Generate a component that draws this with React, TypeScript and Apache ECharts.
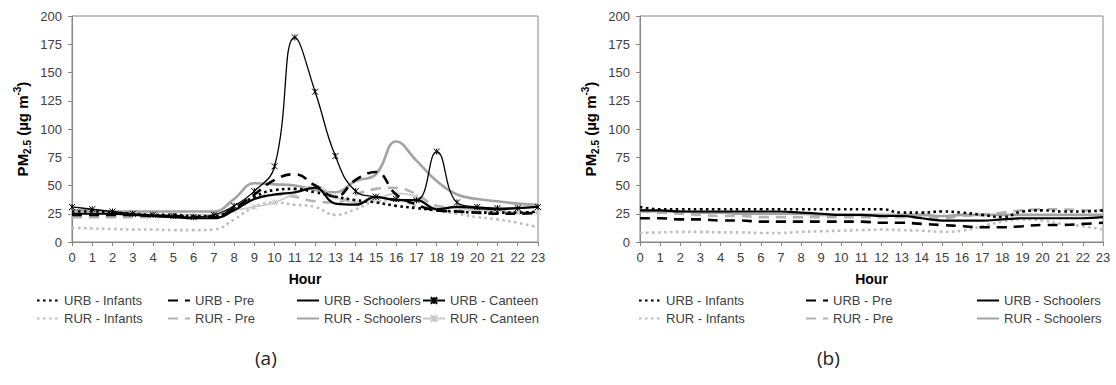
import React, { useEffect, useRef } from "react";
import * as echarts from "echarts";

// Hour of day (x categories) and the PM2.5 tick labels
const hours = ["0","1","2","3","4","5","6","7","8","9","10","11","12","13","14","15","16","17","18","19","20","21","22","23"];
const yTicks = [0, 25, 50, 75, 100, 125, 150, 175, 200];

// (a) hourly mean PM2.5, µg m-3
const aUrbInfants = [27, 27, 26, 25, 24, 24, 23, 23, 30, 40, 46, 47, 44, 40, 37, 35, 32, 30, 28, 27, 26, 26, 26, 27];
const aUrbPre = [24, 24, 24, 24, 23, 23, 22, 22, 30, 42, 55, 60, 50, 40, 55, 62, 42, 33, 28, 27, 26, 25, 25, 26];
const aUrbSchoolers = [25, 25, 25, 24, 23, 22, 21, 21, 28, 38, 42, 44, 48, 34, 33, 40, 37, 37, 29, 31, 30, 29, 30, 31];
const aUrbCanteen = [31, 29, 27, 25, 24, 23, 22, 24, 32, 45, 67, 181, 133, 76, 45, 40, 38, 37, 80, 35, 31, 30, 30, 31];
const aRurInfants = [12.5, 12, 11.5, 11, 11, 10.5, 10.5, 11, 20, 31, 35, 33, 31, 24, 29, 36, 37, 32, 28, 25, 22, 20, 17, 13];
const aRurPre = [22, 22, 22, 22, 22, 23, 23, 24, 30, 38, 42, 40, 36, 35, 42, 47, 48, 42, 32, 30, 28, 27, 26, 26];
const aRurSchoolers = [28, 28, 27, 27, 27, 27, 27, 27, 38, 52, 51, 50, 46, 44, 54, 60, 89, 72, 54, 42, 38, 36, 34, 33];
const aRurCanteen = [26, 25, 25, 24, 24, 24, 24, 24, 28, 31, 35, 43, 50, 40, 35, 38, 43, 40, 30, 30, 28, 28, 26, 26];

// (b) hourly mean PM2.5, µg m-3
const bUrbInfants = [31, 29, 29, 29, 29, 29, 29, 29, 29, 29, 29, 29, 29, 26, 26, 27, 26, 24, 22, 27, 28, 27, 27, 28];
const bUrbPre = [21, 21, 20, 20, 19, 19, 18, 18, 18, 18, 18, 18, 17, 17, 16, 15, 14, 13, 13, 14, 15, 15, 16, 17];
const bUrbSchoolers = [28, 28, 27, 27, 27, 27, 27, 27, 26, 25, 24, 24, 23, 23, 21, 19, 19, 19, 20, 21, 21, 21, 21, 22];
const bRurInfants = [8, 8.5, 9, 9, 8.5, 8.5, 8, 8, 9, 9.5, 10, 10.5, 11, 10.5, 10, 9, 10, 14, 18, 20, 19, 16, 14, 11];
const bRurPre = [27, 26, 25, 24, 23, 23, 22, 22, 22, 22, 22, 22, 22, 22, 22, 21, 23, 24, 26, 28, 29, 29, 28, 28];
const bRurSchoolers = [28, 27, 27, 26, 26, 25, 25, 25, 25, 24, 24, 24, 24, 24, 24, 23, 24, 24, 24, 24, 24, 24, 24, 24];

const FONT = "'Liberation Sans', Arial, sans-serif";
const AXIS_GREY = "#868686";
const LABEL_GREY = "#404040";

// asterisk-style marker used for the canteen series
const STAR = "path://M0,0L10,10M10,0L0,10M5,0L5,10";

type LineSpec = { color: string; width: number; type: any; marker?: boolean };

const styleOf: Record<string, LineSpec> = {
  "URB - Infants": { color: "#000000", width: 2.6, type: [2.6, 3.4] },
  "URB - Pre": { color: "#000000", width: 2.6, type: [10, 7] },
  "URB - Schoolers": { color: "#000000", width: 2.2, type: "solid" },
  "URB - Canteen": { color: "#000000", width: 1.3, type: "solid", marker: true },
  "RUR - Infants": { color: "#bdbdbd", width: 2.6, type: [2.6, 3.4] },
  "RUR - Pre": { color: "#b3b3b3", width: 2.6, type: [10, 7] },
  "RUR - Schoolers": { color: "#a3a3a3", width: 2.6, type: "solid" },
  "RUR - Canteen": { color: "#c9c9c9", width: 1.6, type: "solid", marker: true },
};

function lineSeries(name: string, data: number[], idx: number, z: number) {
  const s = styleOf[name];
  return {
    type: "line",
    name,
    data,
    xAxisIndex: idx,
    yAxisIndex: idx,
    smooth: 0.45,
    z,
    symbol: s.marker ? STAR : "circle",
    symbolSize: 6,
    showSymbol: !!s.marker,
    lineStyle: { color: s.color, width: s.width, type: s.type },
    // series without markers keep their (hidden) symbol transparent so the legend shows only the line
    itemStyle: s.marker
      ? { color: s.color, borderColor: s.color, borderWidth: 1 }
      : { color: s.color, opacity: 0 },
  };
}

function axisPair(idx: number) {
  return {
    x: {
      type: "category",
      gridIndex: idx,
      data: hours,
      boundaryGap: false,
      name: "Hour",
      nameLocation: "middle",
      nameGap: 30,
      nameTextStyle: { fontFamily: FONT, fontSize: 14, fontWeight: "bold", color: "#000" },
      axisLine: { lineStyle: { color: AXIS_GREY, width: 1 } },
      axisTick: { show: true, length: 4, lineStyle: { color: AXIS_GREY } },
      axisLabel: { interval: 0, fontFamily: FONT, fontSize: 13, color: LABEL_GREY, margin: 9 },
      splitLine: { show: false },
    },
    y: {
      type: "value",
      gridIndex: idx,
      min: yTicks[0],
      max: yTicks[yTicks.length - 1],
      interval: 25,
      name: "{b|PM}{s|2.5}{b| (µg m}{p|-3}{b|)}",
      nameLocation: "middle",
      nameRotate: 90,
      nameGap: 40,
      nameTextStyle: {
        rich: {
          b: { fontFamily: FONT, fontSize: 15, fontWeight: "bold", color: "#000", lineHeight: 20, verticalAlign: "middle" },
          s: { fontFamily: FONT, fontSize: 10, fontWeight: "bold", color: "#000", lineHeight: 20, verticalAlign: "bottom" },
          p: { fontFamily: FONT, fontSize: 10, fontWeight: "bold", color: "#000", lineHeight: 20, verticalAlign: "top" },
        },
      },
      axisLine: { show: true, lineStyle: { color: AXIS_GREY, width: 1 } },
      axisTick: { show: true, length: 4, lineStyle: { color: AXIS_GREY } },
      axisLabel: { fontFamily: FONT, fontSize: 13, color: LABEL_GREY, margin: 10 },
      splitLine: { show: false },
    },
  };
}

function legendColumn(names: string[], left: number) {
  return {
    orient: "vertical",
    left,
    top: 294,
    padding: 0,
    itemWidth: 22,
    itemHeight: 8,
    itemGap: 5,
    data: names,
    textStyle: { fontFamily: FONT, fontSize: 13, color: LABEL_GREY },
    selectedMode: false,
  };
}

export default function App() {
  const ref = useRef<HTMLDivElement>(null);

  useEffect(() => {
    if (!ref.current) return;
    const chart = echarts.init(ref.current, undefined, { renderer: "svg" });
    const a = axisPair(0);
    const b = axisPair(1);

    chart.setOption({
      animation: false,
      backgroundColor: "#ffffff",
      grid: [
        { left: 72, top: 16, width: 466, height: 226, show: true, borderColor: AXIS_GREY, borderWidth: 1 },
        { left: 640, top: 16, width: 463, height: 226, show: true, borderColor: AXIS_GREY, borderWidth: 1 },
      ],
      xAxis: [a.x, b.x],
      yAxis: [a.y, b.y],
      legend: [
        legendColumn(["URB - Infants", "RUR - Infants"], 36),
        legendColumn(["URB - Pre", "RUR - Pre"], 167),
        legendColumn(["URB - Schoolers", "RUR - Schoolers"], 296),
        legendColumn(["URB - Canteen", "RUR - Canteen"], 422),
        legendColumn(["URB - Infants", "RUR - Infants"], 638),
        legendColumn(["URB - Pre", "RUR - Pre"], 805),
        legendColumn(["URB - Schoolers", "RUR - Schoolers"], 976),
      ],
      graphic: [
        { type: "text", left: 255, top: 348, style: { text: "(a)", font: "19px 'Open Sans', sans-serif", fill: "#222" } },
        { type: "text", left: 817, top: 348, style: { text: "(b)", font: "19px 'Open Sans', sans-serif", fill: "#222" } },
      ],
      series: [
        lineSeries("RUR - Infants", aRurInfants, 0, 2),
        lineSeries("RUR - Pre", aRurPre, 0, 2),
        lineSeries("RUR - Schoolers", aRurSchoolers, 0, 2),
        lineSeries("RUR - Canteen", aRurCanteen, 0, 2),
        lineSeries("URB - Infants", aUrbInfants, 0, 3),
        lineSeries("URB - Pre", aUrbPre, 0, 3),
        lineSeries("URB - Schoolers", aUrbSchoolers, 0, 3),
        lineSeries("URB - Canteen", aUrbCanteen, 0, 4),
        lineSeries("RUR - Infants", bRurInfants, 1, 2),
        lineSeries("RUR - Pre", bRurPre, 1, 2),
        lineSeries("RUR - Schoolers", bRurSchoolers, 1, 2),
        lineSeries("URB - Infants", bUrbInfants, 1, 3),
        lineSeries("URB - Pre", bUrbPre, 1, 3),
        lineSeries("URB - Schoolers", bUrbSchoolers, 1, 3),
      ],
    });

    return () => chart.dispose();
  }, []);

  return (
    <div
      ref={ref}
      style={{ position: "absolute", left: 0, top: 0, width: 1116, height: 385 }}
    />
  );
}
